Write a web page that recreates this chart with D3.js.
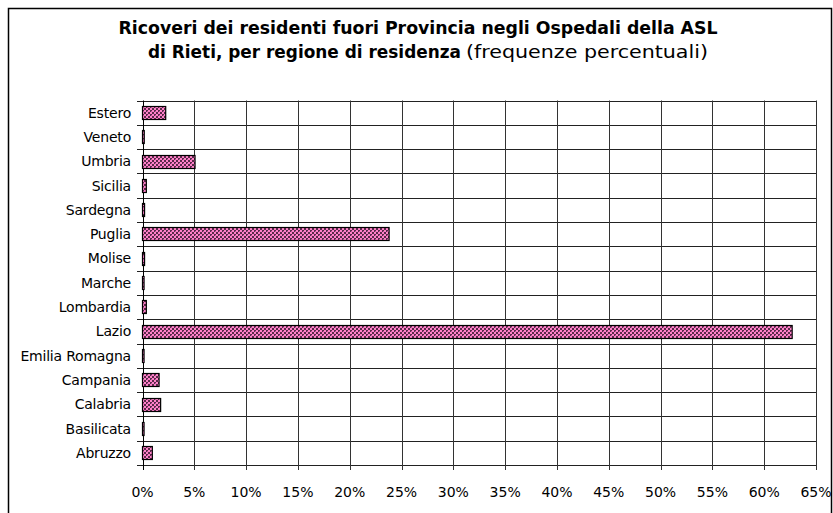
<!DOCTYPE html>
<meta charset="utf-8">
<body style="margin:0">
<script src="https://d3js.org/d3.v7.min.js"></script>
<script>

// regions, bottom to top as in the chart
var regions = ['Abruzzo','Basilicata','Calabria','Campania','Emilia Romagna','Lazio',
  'Lombardia','Marche','Molise','Puglia','Sardegna','Sicilia','Umbria','Veneto','Estero']
var perc = [0.95, 0.15, 1.75, 1.6, 0.15, 62.7, 0.37, 0.15, 0.2, 23.8, 0.2, 0.37, 5.07, 0.17, 2.24]
var xTicks = [0,5,10,15,20,25,30,35,40,45,50,55,60,65]

var W = 833, H = 513
var FONT = 'DejaVu Sans, Verdana, sans-serif'

var svg = d3.select('body').append('svg')
    .attr('width', W).attr('height', H)
    .style('font-family', FONT)

// small checkerboard fill like the office chart
var defs = svg.append('defs')
var pat = defs.append('pattern')
    .attr('id', 'pink')
    .attr('patternUnits', 'userSpaceOnUse')
    .attr('width', 4).attr('height', 4)
pat.append('rect').attr('width', 4).attr('height', 4).attr('fill', '#ff80c8')
pat.append('rect').attr('x', 0).attr('y', 0).attr('width', 2).attr('height', 2).attr('fill', '#5a2a4a')
pat.append('rect').attr('x', 2).attr('y', 2).attr('width', 2).attr('height', 2).attr('fill', '#5a2a4a')
pat.append('rect').attr('x', 3).attr('y', 3).attr('width', 1).attr('height', 1).attr('fill', '#c060a0')

// chart frame
svg.append('rect')
    .attr('x', 8.5).attr('y', 8.5)
    .attr('width', W - 10).attr('height', H)
    .attr('fill', 'white').attr('stroke', '#000').attr('stroke-width', 1.5)

var x = d3.scaleLinear().domain([0, 65]).range([142.5, 816])
var y = d3.scaleBand().domain(regions.slice().reverse())
    .range([100.5, 465]).paddingInner(0.45).paddingOuter(0.225)

var g = svg.append('g')

// horizontal lines at category boundaries
var bounds = d3.range(regions.length + 1).map(i => 100.5 + i * (465 - 100.5) / regions.length)
g.selectAll('.hl').data(bounds).enter().append('line')
    .attr('x1', 137).attr('x2', 816)
    .attr('y1', d => Math.round(d) + 0.5).attr('y2', d => Math.round(d) + 0.5)
    .attr('stroke', '#222').attr('stroke-width', 1)

// vertical gridlines
g.selectAll('.vl').data(xTicks).enter().append('line')
    .attr('x1', d => Math.round(x(d)) + 0.5).attr('x2', d => Math.round(x(d)) + 0.5)
    .attr('y1', 100.5).attr('y2', 470)
    .attr('stroke', d => d == 0 ? '#000' : '#333').attr('stroke-width', 1)

// bars
g.selectAll('.bar').data(regions).enter().append('rect')
    .attr('x', x(0))
    .attr('y', d => Math.round(y(d)) + 0.5)
    .attr('width', (d, i) => x(perc[i]) - x(0))
    .attr('height', Math.round(y.bandwidth()))
    .attr('fill', 'url(#pink)')
    .attr('stroke', '#000').attr('stroke-width', 1.2)

// y labels
g.selectAll('.yl').data(regions).enter().append('text')
    .attr('x', 131)
    .attr('y', d => y(d) + y.bandwidth() / 2)
    .attr('dy', '0.36em')
    .attr('text-anchor', 'end')
    .attr('font-size', 14)
    .attr('letter-spacing', -0.2)
    .text(d => d)

// x labels
g.selectAll('.xl').data(xTicks).enter().append('text')
    .attr('x', d => x(d))
    .attr('y', 497)
    .attr('text-anchor', 'middle')
    .attr('font-size', 14)
    .text(d => d + '%')

// title
svg.append('text').attr('x', 418).attr('y', 34)
    .attr('text-anchor', 'middle').attr('font-size', 17).attr('font-weight', 'bold')
    .attr('textLength', 599).attr('lengthAdjust', 'spacingAndGlyphs')
    .text('Ricoveri dei residenti fuori Provincia negli Ospedali della ASL')
var t2 = svg.append('text').attr('y', 58).attr('font-size', 17)
t2.append('tspan').attr('x', 148).attr('font-weight', 'bold')
    .attr('textLength', 313).attr('lengthAdjust', 'spacingAndGlyphs')
    .text('di Rieti, per regione di residenza')
t2.append('tspan').attr('x', 466)
    .attr('font-family', 'DejaVu Sans Condensed, sans-serif').attr('font-size', 18)
    .attr('textLength', 242).attr('lengthAdjust', 'spacingAndGlyphs')
    .text('(frequenze percentuali)')

</script>
</body>
